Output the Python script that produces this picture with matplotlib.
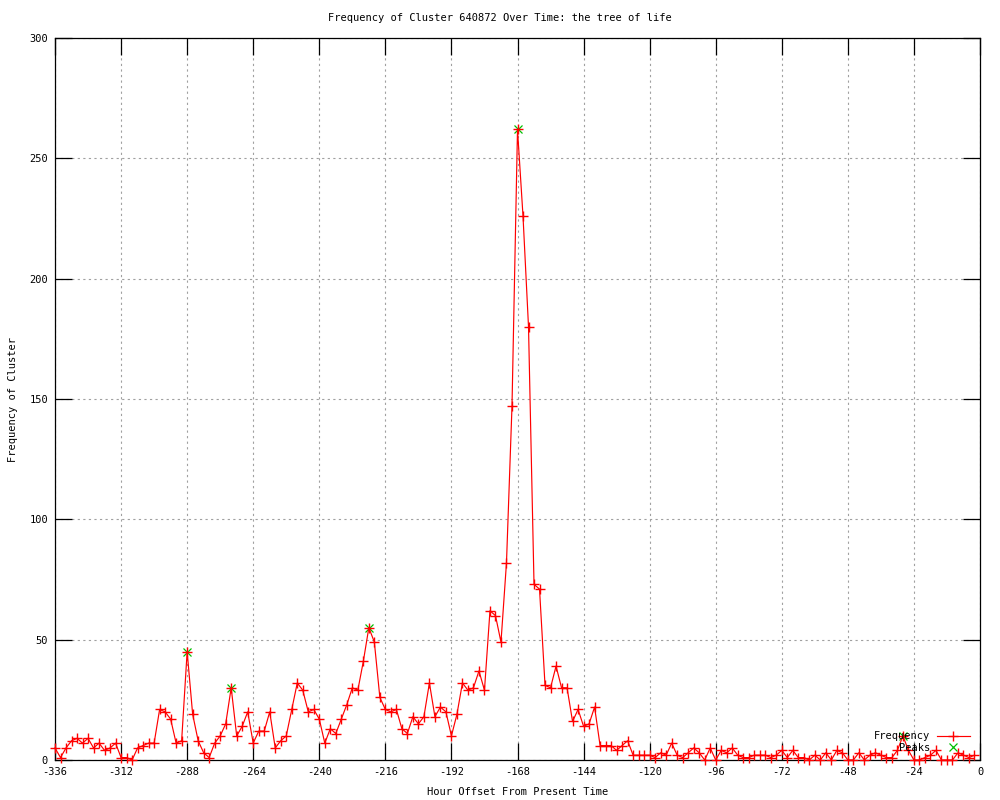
import numpy as np
import matplotlib
matplotlib.use("Agg")
import matplotlib.pyplot as plt

# ---- data ----
hours = np.arange(-336, 0, 2)
frequency = [
    5, 1, 5, 8, 9, 7, 9, 5, 7, 4, 5, 7,            # -336 .. -314
    1, 1, 0, 5, 6, 7, 7, 21, 20, 17, 7, 8,         # -312 .. -290
    45, 19, 8, 3, 1, 7, 10, 15, 30, 10, 14, 20,    # -288 .. -266
    7, 12, 12, 20, 5, 8, 10, 21, 32, 29, 20, 21,   # -264 .. -242
    17, 7, 13, 11, 17, 23, 30, 29, 41, 55, 49, 26, # -240 .. -218
    21, 20, 21, 13, 11, 18, 15, 18, 32, 18, 22, 20,  # -216 .. -194
    10, 19, 32, 29, 30, 37, 29, 62, 60, 49, 82, 147,  # -192 .. -170
    262, 226, 180, 73, 71, 31, 30, 39, 30, 30, 16, 21,  # -168 .. -146
    14, 15, 22, 6, 6, 6, 4, 6, 8, 2, 2, 2,          # -144 .. -122
    2, 1, 3, 2, 7, 2, 1, 3, 5, 3, 0, 5,             # -120 .. -98
    0, 4, 3, 5, 2, 1, 1, 2, 2, 2, 1, 2,             # -96 .. -74
    4, 1, 4, 1, 1, 0, 2, 0, 3, 0, 4, 3,             # -72 .. -50
    0, 0, 3, 0, 2, 3, 2, 1, 1, 4, 10, 4,            # -48 .. -26
    0, 0, 1, 2, 4, 0, 0, 0, 3, 2, 1, 2,             # -24 .. -2
]
peak_hours = [-288, -272, -222, -168, -28]
peak_values = [45, 30, 55, 262, 10]

x_ticks = list(range(-336, 1, 24))
y_ticks = list(range(0, 301, 50))

title = "Frequency of Cluster 640872 Over Time: the tree of life"
xlabel = "Hour Offset From Present Time"
ylabel = "Frequency of Cluster"

# ---- style ----
plt.rcParams['font.family'] = ['DejaVu Sans Mono']
FS = 7.5

fig = plt.figure(figsize=(10, 8), dpi=100)
ax = fig.add_axes([0.055, 0.05, 0.925, 0.9025])

ax.plot(hours, frequency, color='#ff0000', lw=0.85, marker='+', ms=7,
        mew=1.0, clip_on=False, zorder=4, label='Frequency')
ax.plot(peak_hours, peak_values, ls='none', color='#00c000', marker='x',
        ms=6, mew=0.9, clip_on=False, zorder=3, label='Peaks')

ax.set_xlim(-336, 0)
ax.set_ylim(0, 300)
ax.set_xticks(x_ticks)
ax.set_yticks(y_ticks)
ax.set_xticklabels([str(t) for t in x_ticks], fontsize=FS)
ax.set_yticklabels([str(t) for t in y_ticks], fontsize=FS)
ax.tick_params(direction='in', length=12, width=0.9, top=True, right=True,
               pad=5, color='black')

ax.grid(True, color='#a0a0a0', ls=(0, (2, 3)), lw=0.8)
ax.set_axisbelow(True)
for s in ax.spines.values():
    s.set_linewidth(0.9)
    s.set_color('black')

fig.text(0.5, 1 - 18 / 800, title, ha='center', va='center', fontsize=FS)
fig.text(0.5175, 1 - 792 / 800, xlabel, ha='center', va='center', fontsize=FS)
fig.text(13 / 1000, 0.5, ylabel, ha='center', va='center', rotation=90, fontsize=FS)

leg = ax.legend(loc='lower right', bbox_to_anchor=(0.997, 0.0), frameon=False,
                markerfirst=False, fontsize=FS, handlelength=3.2,
                handletextpad=0.6, labelspacing=0.15, borderaxespad=0.3)

fig.savefig('out.png', dpi=100)
